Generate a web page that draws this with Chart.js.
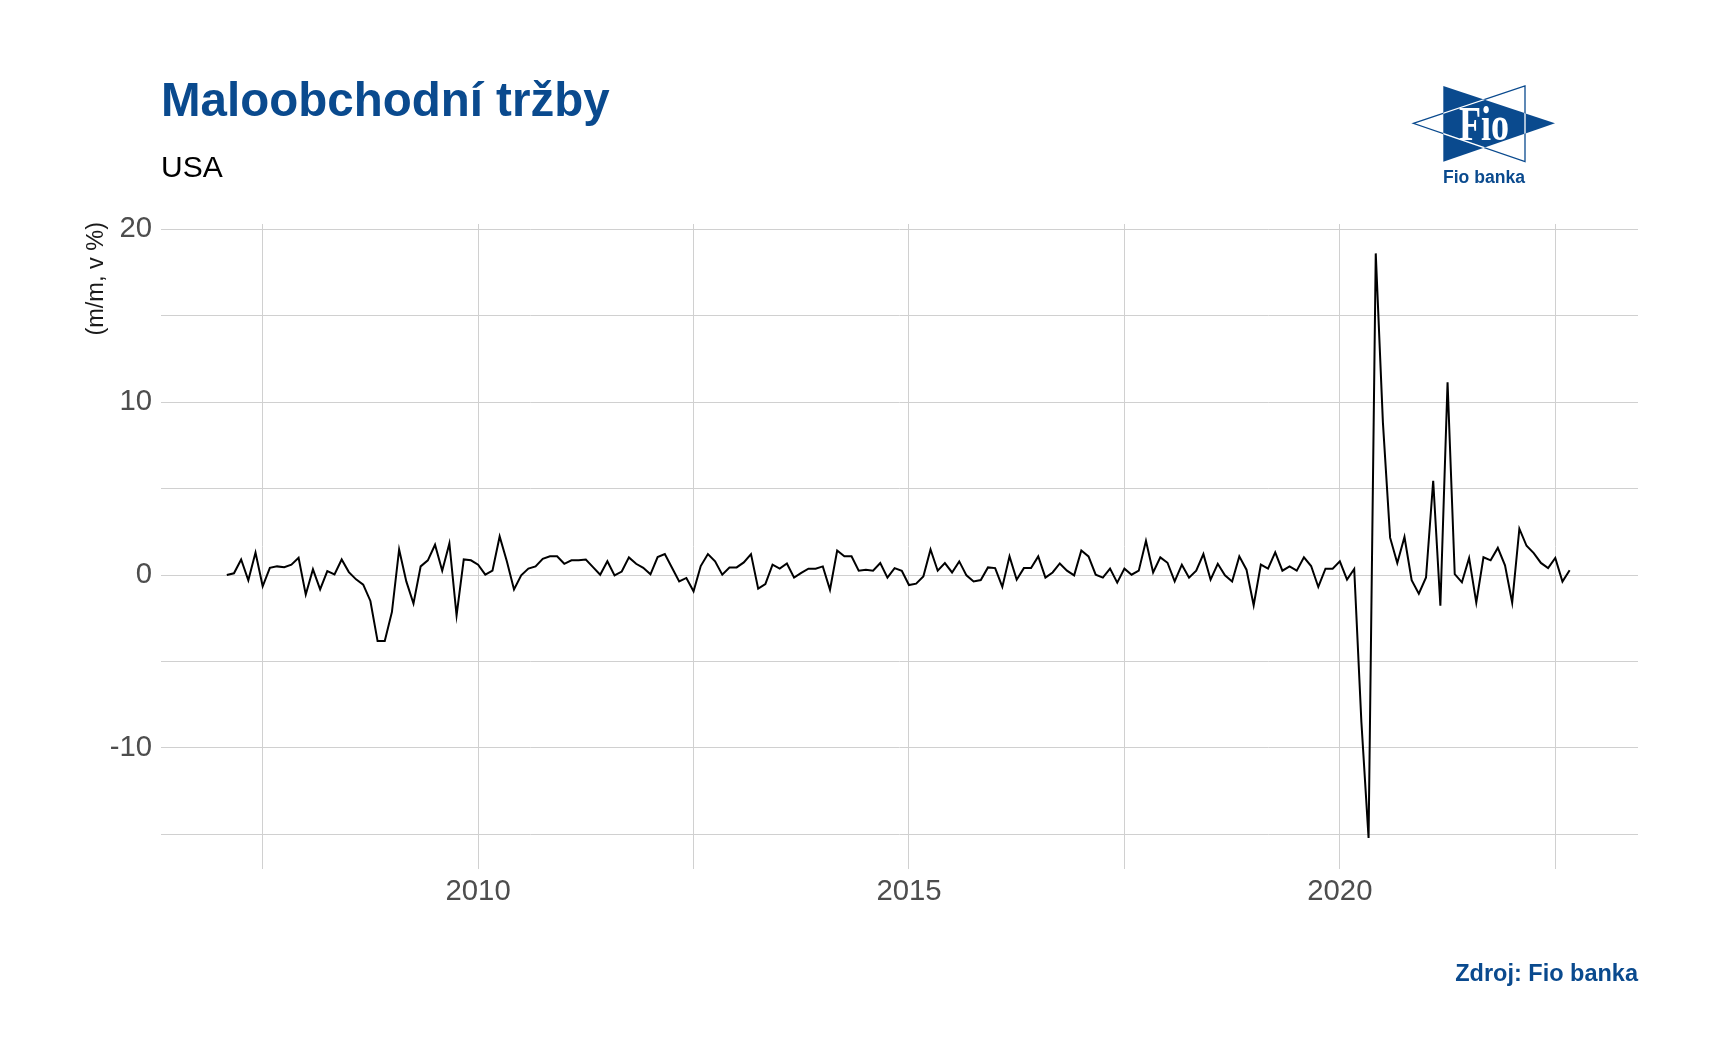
<!DOCTYPE html>
<html>
<head>
<meta charset="utf-8">
<script src="https://cdn.jsdelivr.net/npm/chart.js@4.4.0/dist/chart.umd.min.js"></script>
<style>
  html, body { margin: 0; padding: 0; background: #fff; }
  #wrap { position: relative; width: 1718px; height: 1064px; }
  #c { position: absolute; left: 0; top: 0; }
  #overlay { position: absolute; left: 0; top: 0; pointer-events: none; }
</style>
</head>
<body>
<div id="wrap">
  <canvas id="c" width="1718" height="1064"></canvas>
  <svg id="overlay" width="1718" height="1064" xmlns="http://www.w3.org/2000/svg">
    <defs>
      <clipPath id="triA"><polygon points="1443.3,86 1443.3,161.7 1555,123.3"/></clipPath>
    </defs>
    <text x="161" y="116" font-family="Liberation Sans, Arial, sans-serif" font-weight="bold" font-size="47.5" fill="#0a4a8e">Maloobchodní tržby</text>
    <text x="161" y="177" font-family="Liberation Sans, Arial, sans-serif" font-size="30" fill="#000">USA</text>
    <text transform="translate(103,222) rotate(-90)" text-anchor="end" font-family="Liberation Sans, Arial, sans-serif" font-size="23.5" fill="#1a1a1a">(m/m, v %)</text>
    <text x="1638" y="981" text-anchor="end" font-family="Liberation Sans, Arial, sans-serif" font-weight="bold" font-size="23.5" fill="#0a4a8e">Zdroj: Fio banka</text>
    <!-- logo -->
    <polygon points="1413.3,123.3 1525,86 1525,161.7" fill="#fff" stroke="#0a4a8e" stroke-width="1.3"/>
    <polygon points="1443.3,86 1443.3,161.7 1555,123.3" fill="#0a4a8e"/>
    <polygon points="1413.3,123.3 1525,86 1525,161.7" fill="none" stroke="#fff" stroke-width="1.3" clip-path="url(#triA)"/>
    <text transform="translate(1459,140) scale(1,1.3)" font-family="Liberation Serif, serif" font-weight="bold" font-size="38" fill="#fff" textLength="50" lengthAdjust="spacingAndGlyphs">Fio</text>
    <text x="1443" y="183" font-family="Liberation Sans, Arial, sans-serif" font-weight="bold" font-size="17.5" fill="#0a4a8e" textLength="82" lengthAdjust="spacingAndGlyphs">Fio banka</text>
  </svg>
</div>
<script>
// maloobchodni trzby USA, m/m v %, mesicni data (leden 2007 - srpen 2022)
const firstYear = 2007;
const r2007 = [0.0, 0.1, 0.9, -0.3, 1.3, -0.65, 0.42, 0.5, 0.45, 0.6, 1.0, -1.13];
const r2008 = [0.33, -0.83, 0.23, 0.04, 0.9, 0.17, -0.25, -0.56, -1.5, -3.82, -3.82, -2.13];
const r2009 = [1.48, -0.37, -1.65, 0.5, 0.85, 1.75, 0.25, 1.83, -2.34, 0.9, 0.85, 0.6];
const r2010 = [0.02, 0.25, 2.23, 0.8, -0.83, -0.02, 0.37, 0.5, 0.94, 1.08, 1.08, 0.65];
const r2011 = [0.85, 0.85, 0.9, 0.46, 0.02, 0.8, -0.02, 0.2, 1.02, 0.65, 0.42, 0.04];
const r2012 = [1.04, 1.21, 0.42, -0.37, -0.17, -0.94, 0.52, 1.21, 0.79, 0.02, 0.44, 0.44];
const r2013 = [0.73, 1.21, -0.79, -0.52, 0.6, 0.37, 0.67, -0.15, 0.12, 0.37, 0.37, 0.5];
const r2014 = [-0.85, 1.42, 1.08, 1.08, 0.25, 0.31, 0.25, 0.69, -0.15, 0.4, 0.25, -0.58];
const r2015 = [-0.5, -0.08, 1.48, 0.25, 0.69, 0.15, 0.79, -0.02, -0.37, -0.29, 0.44, 0.4];
const r2016 = [-0.69, 1.08, -0.27, 0.4, 0.4, 1.08, -0.15, 0.15, 0.67, 0.25, -0.02, 1.42];
const r2017 = [1.08, 0.02, -0.15, 0.37, -0.44, 0.37, 0.02, 0.25, 1.98, 0.15, 1.02, 0.71];
const r2018 = [-0.37, 0.6, -0.15, 0.25, 1.21, -0.27, 0.65, -0.02, -0.37, 1.08, 0.31, -1.75];
const r2019 = [0.6, 0.37, 1.31, 0.25, 0.5, 0.25, 1.02, 0.52, -0.69, 0.37, 0.37, 0.79];
const r2020 = [-0.26, 0.35, -8.5, -15.2, 18.6, 8.8, 2.16, 0.7, 2.2, -0.3, -1.08, -0.14];
const r2021 = [5.45, -1.78, 11.15, 0.05, -0.42, 0.99, -1.6, 1.03, 0.85, 1.57, 0.56, -1.6];
const r2022 = [2.68, 1.69, 1.27, 0.7, 0.4, 0.99, -0.38, 0.28];

const xLabels = [2010, 2015, 2020];
const yLabels = [-10, 0, 10, 20];

const allYears = [r2007, r2008, r2009, r2010, r2011, r2012, r2013, r2014,
                  r2015, r2016, r2017, r2018, r2019, r2020, r2021, r2022];

// body na konci mesice
const points = [];
allYears.forEach(function(vals, k) {
    vals.forEach(function(v, m) {
        points.push({ x: firstYear + k + (m + 1) / 12, y: v });
    });
});

const tickFont = { family: 'Liberation Sans, Arial, sans-serif', size: 29.3 };
const gridColor = '#d0d0d0';

new Chart(document.getElementById('c').getContext('2d'), {
    type: 'line',
    data: {
        datasets: [{
            data: points,
            borderColor: '#000000',
            borderWidth: 2,
            pointRadius: 0,
            tension: 0,
            fill: false
        }]
    },
    options: {
        responsive: false,
        animation: false,
        devicePixelRatio: 1,
        layout: { padding: { left: 0, right: 80, top: 224, bottom: 0 } },
        plugins: { legend: { display: false }, tooltip: { enabled: false } },
        scales: {
            x: {
                type: 'linear',
                min: 2006.32,
                max: 2023.46,
                afterFit: function(s) { s.height = 195; },
                grid: { color: gridColor, lineWidth: 1, drawTicks: false },
                border: { display: false },
                ticks: {
                    stepSize: 2.5,
                    includeBounds: false,
                    autoSkip: false,
                    maxRotation: 0,
                    padding: 5,
                    font: tickFont,
                    color: '#4d4d4d',
                    callback: function(v) { return xLabels.includes(v) ? String(v) : ''; }
                }
            },
            y: {
                min: -17,
                max: 20.3,
                afterFit: function(s) { s.width = 161; },
                grid: { color: gridColor, lineWidth: 1, drawTicks: false },
                border: { display: false },
                ticks: {
                    stepSize: 5,
                    includeBounds: false,
                    padding: 9,
                    font: tickFont,
                    color: '#4d4d4d',
                    callback: function(v) { return yLabels.includes(v) ? String(v) : ''; }
                }
            }
        }
    }
});
</script>
</body>
</html>
